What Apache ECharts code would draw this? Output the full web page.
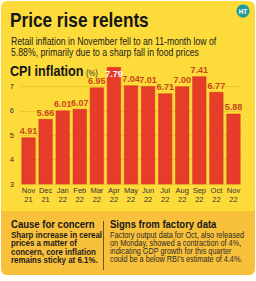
<!DOCTYPE html>
<html>
<head>
<meta charset="utf-8">
<script src="https://cdn.jsdelivr.net/npm/echarts@6/dist/echarts.min.js"></script>
<style>
  html, body { margin: 0; padding: 0; background: #fff; }
  #chart { width: 256px; height: 281px; }
</style>
</head>
<body>
<div id="chart"></div>
<script>
const months = ['Nov\n21', 'Dec\n21', 'Jan\n22', 'Feb\n22', 'Mar\n22', 'Apr\n22', 'May\n22',
  'Jun\n22', 'Jul\n22', 'Aug\n22', 'Sep\n22', 'Oct\n22', 'Nov\n22'];
const cpi = [4.91, 5.66, 6.01, 6.07, 6.95, 7.79, 7.04, 7.01, 6.71, 7.00, 7.41, 6.77, 5.88];
const yTicks = [3, 4, 5, 6, 7, 8];

const sans = '"Liberation Sans", Arial, sans-serif';
const yellow = '#fddb3b';
const orange = '#f9c13b';
const barRed = '#e63c2a';
const labelRed = '#c9461d';

const chart = echarts.init(document.getElementById('chart'), null, { renderer: 'svg' });

// text blocks, squeezed sideways to get the condensed look of the original
const texts = [
  { t: 'Price rise relents', x: 10, y: 9, f: 'bold 21px ' + sans, c: '#161616', s: 0.82 },
  { t: 'Retail inflation in November fell to an 11-month low of', x: 11, y: 36, f: '10.5px ' + sans, c: '#1c1c1c', s: 0.83 },
  { t: '5.88%, primarily due to a sharp fall in food prices', x: 11, y: 47, f: '10.5px ' + sans, c: '#1c1c1c', s: 0.83 },
  { t: 'CPI inflation', x: 10, y: 64, f: 'bold 14.5px ' + sans, c: '#161616', s: 0.87 },
  { t: '(%)', x: 86, y: 69, f: '8.5px ' + sans, c: '#333', s: 0.9 },
  { t: 'Cause for concern', x: 11, y: 218, f: 'bold 11.5px ' + sans, c: '#161616', s: 0.83 },
  { t: 'Signs from factory data', x: 110, y: 218, f: 'bold 11.5px ' + sans, c: '#161616', s: 0.83 },
  { t: 'Sharp increase in cereal\nprices a matter of\nconcern, core inflation\nremains sticky at 6.1%.',
    x: 11, y: 231, f: 'bold 9px ' + sans, c: '#1c1c1c', s: 0.88, lh: 8.2 },
  { t: 'Factory output data for Oct, also released\non Monday, showed a contraction of 4%,\nindicating GDP growth for this quarter\ncould be a below RBI\u2019s estimate of 4.4%.',
    x: 110, y: 231, f: '8.7px ' + sans, c: '#2a2a2a', s: 0.84, lh: 8.2 }
];

const graphics = [
  { type: 'rect', shape: { x: 1, y: 1, width: 254, height: 274, r: 6 }, style: { fill: yellow }, z: -10, silent: true },
  { type: 'rect', shape: { x: 1, y: 211, width: 254, height: 64, r: [0, 0, 6, 6] }, style: { fill: orange }, z: -9, silent: true },
  { type: 'rect', shape: { x: 103, y: 221, width: 1, height: 49 }, style: { fill: '#6b5520' }, silent: true },
  { type: 'circle', shape: { cx: 243, cy: 11, r: 6.5 }, style: { fill: '#1f9a9a' }, silent: true },
  { type: 'text', style: { text: 'HT', x: 243, y: 11, fill: '#fff', font: 'bold 6.5px ' + sans, align: 'center', verticalAlign: 'middle' }, silent: true }
];
texts.forEach(d => graphics.push({
  type: 'text', silent: true,
  x: d.x, y: d.y, scaleX: d.s,
  style: { text: d.t, x: 0, y: 0, font: d.f, fill: d.c, verticalAlign: 'top', lineHeight: d.lh }
}));

chart.setOption({
  backgroundColor: '#fff',
  animation: false,
  grid: { left: 20, right: 14, top: 62, bottom: 97 },
  xAxis: {
    type: 'category',
    data: months,
    axisLine: { show: false },
    axisTick: { show: false },
    axisLabel: { color: '#333', fontFamily: sans, fontSize: 7.5, lineHeight: 9, margin: 2, interval: 0 }
  },
  yAxis: {
    type: 'value',
    min: yTicks[0],
    max: yTicks[yTicks.length - 1],
    interval: 1,
    axisLine: { show: false },
    axisTick: { show: false },
    axisLabel: {
      color: '#333', fontFamily: sans, fontSize: 7.5, margin: 6,
      formatter: v => (v === yTicks[yTicks.length - 1] ? '' : String(v))
    },
    splitLine: {
      lineStyle: {
        color: yTicks.map((v, i) => (i === yTicks.length - 1 ? 'rgba(0,0,0,0)' : 'rgba(175,135,0,0.22)')),
        width: 1
      }
    }
  },
  series: [{
    type: 'bar',
    data: cpi.map(v => ({
      value: v,
      label: v === Math.max(...cpi)
        ? { position: 'insideTop', color: '#fff', distance: 2 }
        : undefined
    })),
    barWidth: 14,
    itemStyle: { color: barRed, borderColor: '#d8341f', borderWidth: 0.5 },
    label: {
      show: true,
      position: 'top',
      distance: 2,
      color: labelRed,
      fontFamily: sans,
      fontWeight: 'bold',
      fontSize: 9,
      formatter: p => p.value.toFixed(2)
    }
  }],
  graphic: graphics
});
</script>
</body>
</html>
